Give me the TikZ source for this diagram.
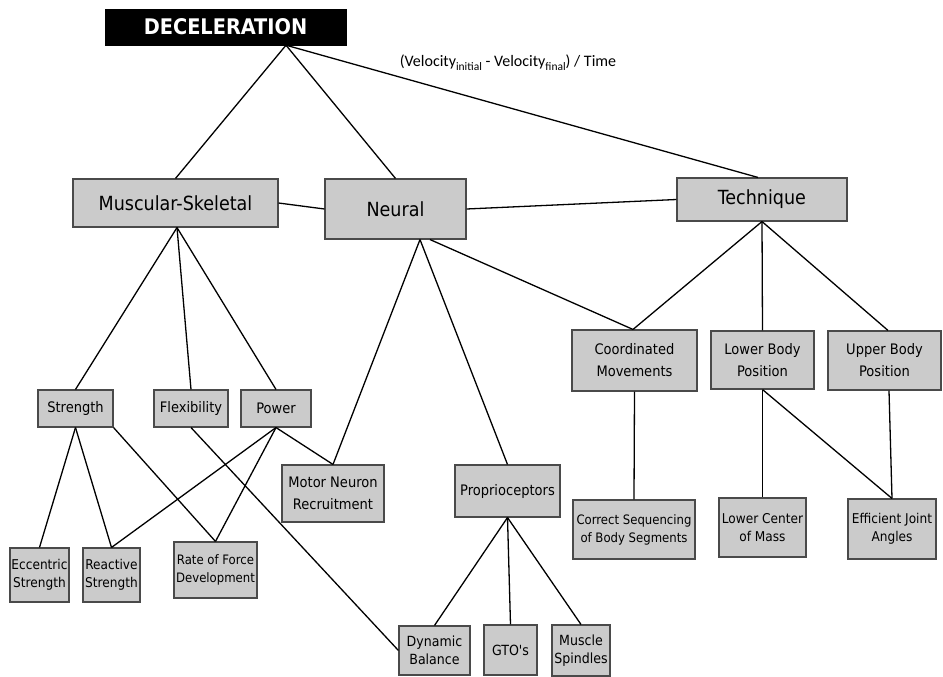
\documentclass[tikz,border=0pt]{standalone}
\usepackage{fontspec}
\setmainfont{DejaVu Sans Condensed}
\newfontfamily\labfont{Carlito}
\usetikzlibrary{positioning}
\definecolor{boxfill}{HTML}{CBCBCB}
\definecolor{boxline}{HTML}{4A4A4A}
\tikzset{
  box/.style={draw=boxline, line width=1.1pt, fill=boxfill, inner sep=0pt, align=center,
              font=\fontsize{14.5}{22}\selectfont, text=black},
  smallbox/.style={box, font=\fontsize{13.5}{18}\selectfont},
  bigbox/.style={box, font=\fontsize{19.5}{22}\selectfont},
  topbox/.style={fill=black, draw=black, inner sep=0pt, text=white,
              font=\fontsize{21.5}{24}\selectfont\bfseries},
  conn/.style={draw=black, line width=1.3pt},
  lab/.style={inner sep=0pt, font=\labfont\fontsize{16}{18}\selectfont}
}
\newcommand{\lowsub}[1]{\raisebox{-0.5ex}{\fontsize{11.5}{12}\selectfont #1}}
\begin{document}
\begin{tikzpicture}[x=1pt,y=-1pt]
\path[use as bounding box, fill=white] (0,0) rectangle (943,677);
% top
\node[topbox, minimum width=241pt, minimum height=36pt] (dec) at (225.5,27) {DECELERATION};
\node[lab] (vel) at (508,63) {(Velocity\lowsub{initial} - Velocity\lowsub{final}) / Time};
% level 1
\node[bigbox, minimum width=205pt, minimum height=48pt] (ms) at (175.5,203) {Muscular-Skeletal};
\node[bigbox, minimum width=141pt, minimum height=60pt] (neu) at (395.5,209) {Neural};
\node[bigbox, minimum width=170pt, minimum height=43pt] (tech) at (762,199.5) {Technique};
% level 2
\node[box, minimum width=75pt, minimum height=37pt] (str) at (75.5,408.5) {Strength};
\node[box, minimum width=74pt, minimum height=37pt] (flex) at (191,408.5) {Flexibility};
\node[box, minimum width=70pt, minimum height=37pt] (pow) at (276,408.5) {Power};
\node[box, minimum width=102pt, minimum height=57pt] (mnr) at (333,493.5) {Motor Neuron\\Recruitment};
\node[box, minimum width=105pt, minimum height=52pt] (pro) at (507.5,491) {Proprioceptors};
\node[box, minimum width=125pt, minimum height=61pt] (coo) at (634.5,360.5) {Coordinated\\Movements};
\node[box, minimum width=103pt, minimum height=58pt] (lbp) at (762.5,360) {Lower Body\\Position};
\node[box, minimum width=113pt, minimum height=59pt] (ubp) at (884.5,360.5) {Upper Body\\Position};
% level 3
\node[smallbox, minimum width=59pt, minimum height=54pt] (ecc) at (39.5,575) {Eccentric\\Strength};
\node[smallbox, minimum width=57pt, minimum height=54pt] (rea) at (111.5,575) {Reactive\\Strength};
\node[smallbox, minimum width=83pt, minimum height=56pt, font=\fontsize{13}{18}\selectfont] (rate) at (215.5,570) {Rate of Force\\Development};
\node[smallbox, minimum width=71pt, minimum height=49pt, font=\fontsize{14}{18}\selectfont] (dyn) at (434.5,650.5) {Dynamic\\Balance};
\node[smallbox, minimum width=53pt, minimum height=50pt, font=\fontsize{14}{18}\selectfont] (gto) at (510.5,650) {GTO\textquotesingle s};
\node[smallbox, minimum width=58pt, minimum height=51pt, font=\fontsize{14}{18}\selectfont] (mus) at (581,650.5) {Muscle\\Spindles};
\node[smallbox, minimum width=122pt, minimum height=59pt, font=\fontsize{13}{18}\selectfont] (cor) at (634,529.5) {Correct Sequencing\\of Body Segments};
\node[smallbox, minimum width=87pt, minimum height=59pt] (lcm) at (762.5,527.5) {Lower Center\\of Mass};
\node[smallbox, minimum width=88pt, minimum height=60pt] (eja) at (892,529) {Efficient Joint\\Angles};
% connectors
\draw[conn] ([xshift=60.5pt]dec.south) -- (ms.north);
\draw[conn] ([xshift=60.5pt]dec.south) -- (neu.north);
\draw[conn] ([xshift=60.5pt]dec.south) -- ([xshift=-4pt]tech.north);
\draw[conn] (ms.east) -- (neu.west);
\draw[conn] (neu.east) -- (tech.west);
\draw[conn] ([xshift=1.5pt]ms.south) -- (str.north);
\draw[conn] ([xshift=1.5pt]ms.south) -- (flex.north);
\draw[conn] ([xshift=1.5pt]ms.south) -- (pow.north);
\draw[conn] (str.south) -- (ecc.north);
\draw[conn] (str.south) -- (rea.north);
\draw[conn] (str.south east) -- (rate.north);
\draw[conn] (flex.south) -- (dyn.west);
\draw[conn] (pow.south) -- (rea.north);
\draw[conn] (pow.south) -- (rate.north);
\draw[conn] (pow.south) -- (mnr.north);
\draw[conn] ([xshift=24.5pt]neu.south) -- (mnr.north);
\draw[conn] ([xshift=24.5pt]neu.south) -- (pro.north);
\draw[conn] ([xshift=34.5pt]neu.south) -- ([xshift=-1.5pt]coo.north);
\draw[conn] (pro.south) -- (dyn.north);
\draw[conn] (pro.south) -- (gto.north);
\draw[conn] (pro.south) -- (mus.north);
\draw[conn] (tech.south) -- ([xshift=-1.5pt]coo.north);
\draw[conn] (tech.south) -- (lbp.north);
\draw[conn] (tech.south) -- ([xshift=3.5pt]ubp.north);
\draw[conn] (coo.south) -- (cor.north);
\draw[conn] (lbp.south) -- (lcm.north);
\draw[conn] (lbp.south) -- (eja.north);
\draw[conn] ([xshift=4.5pt]ubp.south) -- (eja.north);
\end{tikzpicture}
\end{document}
